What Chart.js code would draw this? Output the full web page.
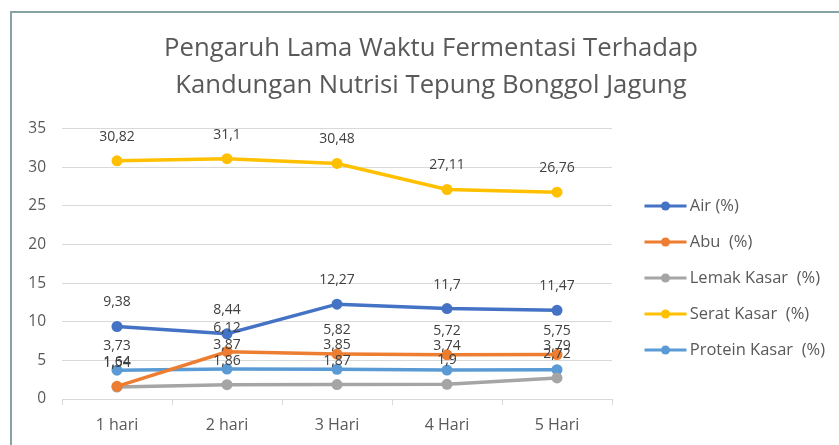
<!DOCTYPE html>
<html>
<head>
<meta charset="utf-8">
<script src="https://cdn.jsdelivr.net/npm/chart.js@4/dist/chart.umd.min.js"></script>
<style>
  html, body { margin: 0; padding: 0; background: #fff; }
  #wrap { width: 839px; height: 445px; }
</style>
</head>
<body>
<div id="wrap"><canvas id="myChart"></canvas></div>
<script>
// data dari grafik
const days = ['1 hari', '2 hari', '3 Hari', '4 Hari', '5 Hari'];
const air = [9.38, 8.44, 12.27, 11.7, 11.47];
const abu = [1.64, 6.12, 5.82, 5.72, 5.75];
const lemak = [1.54, 1.86, 1.87, 1.9, 2.72];
const serat = [30.82, 31.1, 30.48, 27.11, 26.76];
const protein = [3.73, 3.87, 3.85, 3.74, 3.79];

const seriesNames = ['Air (%)', 'Abu  (%)', 'Lemak Kasar  (%)', 'Serat Kasar  (%)', 'Protein Kasar  (%)'];
const seriesColors = ['#4472C4', '#ED7D31', '#A5A5A5', '#FFC000', '#5B9BD5'];
const seriesData = [air, abu, lemak, serat, protein];

const fontFamily = "'Open Sans', 'Noto Sans', sans-serif";
const legendWidth = 227;

// ramka kiri & atas
const framePlugin = {
    id: 'frame',
    beforeDraw(chart) {
        const ctx = chart.ctx;
        ctx.save();
        ctx.fillStyle = '#fff';
        ctx.fillRect(0, 0, chart.width, chart.height);
        ctx.strokeStyle = '#86a3a3';
        ctx.lineWidth = 2;
        ctx.beginPath();
        ctx.moveTo(11, chart.height);
        ctx.lineTo(11, 12);
        ctx.lineTo(chart.width, 12);
        ctx.stroke();
        ctx.restore();
    }
};

// lebar legenda tetap (jangan dipotong oleh layout)
const legendFixedWidth = {
    id: 'legendFixedWidth',
    afterInit(chart) {
        const legend = chart.legend;
        if (!legend) return;
        const origFit = legend.fit;
        legend.fit = function () {
            origFit.call(this);
            this.width = legendWidth;
        };
    }
};

// label nilai di atas titik (koma desimal)
const valueLabels = {
    id: 'valueLabels',
    afterDatasetsDraw(chart) {
        const ctx = chart.ctx;
        ctx.save();
        ctx.font = '14px ' + fontFamily;
        ctx.fillStyle = '#404040';
        ctx.textAlign = 'center';
        ctx.textBaseline = 'middle';
        chart.data.datasets.forEach((ds, i) => {
            const meta = chart.getDatasetMeta(i);
            meta.data.forEach((pt, j) => {
                const txt = String(ds.data[j]).replace('.', ',');
                ctx.fillText(txt, pt.x, pt.y - 24);
            });
        });
        ctx.restore();
    }
};

// garis + titik pada legenda (kotak asli dibuat transparan)
const legendMarks = {
    id: 'legendMarks',
    afterDraw(chart) {
        const legend = chart.legend;
        if (!legend || !legend.legendHitBoxes) return;
        const ctx = chart.ctx;
        const boxW = legend.options.labels.boxWidth;
        legend.legendHitBoxes.forEach((box, i) => {
            const cy = box.top + box.height / 2;
            const x0 = box.left + 13;
            const x1 = box.left + boxW + 5;
            ctx.save();
            ctx.strokeStyle = seriesColors[i];
            ctx.lineWidth = 3;
            ctx.beginPath();
            ctx.moveTo(x0, cy);
            ctx.lineTo(x1, cy);
            ctx.stroke();
            ctx.fillStyle = seriesColors[i];
            ctx.beginPath();
            ctx.arc((x0 + x1) / 2, cy, 4.5, 0, Math.PI * 2);
            ctx.fill();
            ctx.restore();
        });
    }
};

const ctx = document.getElementById('myChart').getContext('2d');
const myChart = new Chart(ctx, {
    type: 'line',
    data: {
        labels: days,
        datasets: seriesData.map((d, i) => ({
            label: seriesNames[i],
            data: d,
            borderColor: seriesColors[i],
            backgroundColor: seriesColors[i],
            borderWidth: 3.5,
            pointRadius: 5.5,
            pointBorderWidth: 0,
            tension: 0
        }))
    },
    options: {
        responsive: true,
        maintainAspectRatio: false,
        animation: false,
        layout: { padding: { left: 23, top: 12, right: 0, bottom: 0 } },
        scales: {
            x: {
                offset: true,
                grid: {
                    offset: true,
                    drawOnChartArea: false,
                    tickLength: 6,
                    color: '#d9d9d9'
                },
                border: { color: '#d9d9d9', width: 1 },
                ticks: { color: '#595959', font: { family: fontFamily, size: 16 }, padding: 10.4 }
            },
            y: {
                min: 0,
                max: 35,
                afterFit(scale) { scale.width = 39; },
                grid: { color: '#d9d9d9', drawTicks: false },
                border: { display: false },
                ticks: {
                    stepSize: 5,
                    color: '#595959',
                    padding: 16,
                    font: { family: fontFamily, size: 15.5 }
                }
            }
        },
        plugins: {
            title: {
                display: true,
                text: ['Pengaruh Lama Waktu Fermentasi Terhadap', 'Kandungan Nutrisi Tepung Bonggol Jagung'],
                color: '#595959',
                font: { family: fontFamily, size: 25.7, weight: 'normal', lineHeight: 1.45 },
                padding: { top: 18, bottom: 24 }
            },
            legend: {
                position: 'right',
                title: { display: true, text: '', font: { size: 10 }, padding: { top: 87, bottom: 0 } },
                labels: {
                    boxWidth: 50,
                    boxHeight: 16.5,
                    padding: 19.5,
                    color: '#595959',
                    font: { family: fontFamily, size: 16.5 },
                    generateLabels(chart) {
                        const items = Chart.defaults.plugins.legend.labels.generateLabels(chart);
                        items.forEach(it => {
                            it.fillStyle = 'rgba(0,0,0,0)';
                            it.strokeStyle = 'rgba(0,0,0,0)';
                            it.lineWidth = 0;
                        });
                        return items;
                    }
                }
            },
            tooltip: { enabled: false }
        }
    },
    plugins: [framePlugin, legendFixedWidth, valueLabels, legendMarks]
});
</script>
</body>
</html>
